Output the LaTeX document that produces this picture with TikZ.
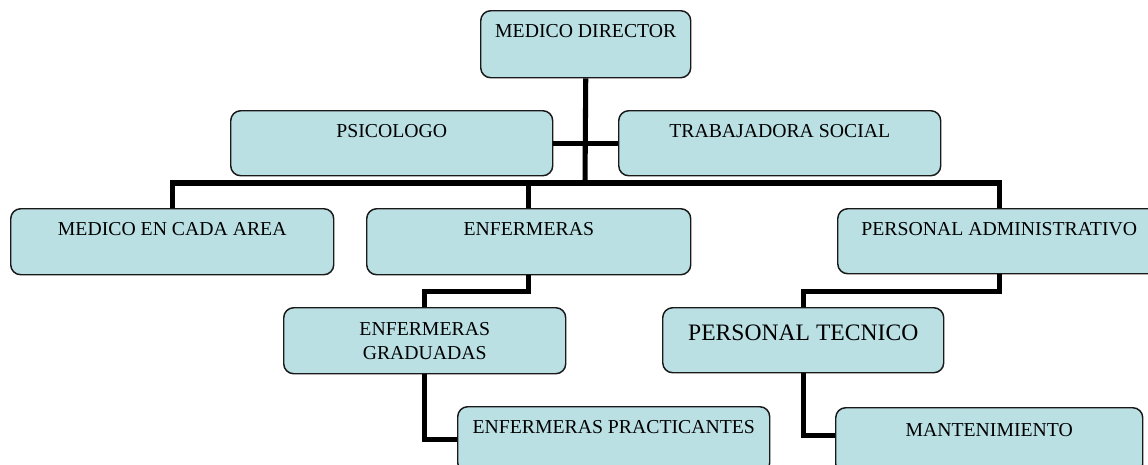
\documentclass[tikz,border=0pt]{standalone}
\usepackage{fontspec}
\setmainfont{Liberation Serif}
\definecolor{boxfill}{RGB}{186,224,228}
\newcommand{\pxu}{0.75pt}
\begin{document}
\begin{tikzpicture}[x=0.75pt,y=-0.75pt,
  orgbox/.style={draw=black!90, line width=1.1pt, fill=boxfill, rounded corners=7.5pt,
    inner xsep=0pt, inner ysep=0pt, anchor=north west,
    font=\fontsize{14.8}{18}\selectfont, text height=27*\pxu},
  conn/.style={line width=3.8pt, draw=black}]
\useasboundingbox (0,0) rectangle (1148,464);
\clip (0,0) rectangle (1148,464);

\node[orgbox, minimum width=210*\pxu, text depth=40*\pxu] (md) at (480,10) {MEDICO DIRECTOR};
\node[orgbox, minimum width=322*\pxu, text depth=38*\pxu] (psi) at (230,110) {PSICOLOGO};
\node[orgbox, minimum width=322*\pxu, text depth=38*\pxu] (ts) at (618,110) {TRABAJADORA SOCIAL};
\node[orgbox, minimum width=323*\pxu, text depth=39*\pxu] (mec) at (10,208) {MEDICO EN CADA AREA};
\node[orgbox, minimum width=324*\pxu, text depth=39*\pxu] (enf) at (366,208) {ENFERMERAS};
\node[orgbox, minimum width=323*\pxu, text depth=38*\pxu] (pa) at (837,208) {PERSONAL ADMINISTRATIVO};
\node[orgbox, minimum width=282*\pxu, minimum height=66*\pxu, text height=, text depth=, align=center] (eg) at (283,307) {ENFERMERAS\\GRADUADAS};
\node[orgbox, minimum width=281*\pxu, text height=33*\pxu, text depth=32*\pxu, font=\fontsize{17.7}{21}\selectfont] (pt) at (662,307) {PERSONAL TECNICO};
\node[orgbox, minimum width=312*\pxu, text depth=39*\pxu] (ep) at (457,406) {ENFERMERAS PRACTICANTES};
\node[orgbox, minimum width=307*\pxu, text height=29*\pxu, text depth=37*\pxu] (mant) at (835,407) {MANTENIMIENTO};

\coordinate (bar) at (585,183);
\draw[conn] (md.south) -- (bar);
\draw[conn] (psi.east) -- (ts.west);
\draw[conn] (mec.north) |- (bar) -| (pa.north);
\draw[conn] (enf.north) -- (enf.north |- bar);
\draw[conn] (enf.south) -- ++(0,16) -| (eg.north);
\draw[conn] (eg.south) |- (ep.west);
\draw[conn] (pa.south) -- ++(0,17) -| (pt.north);
\draw[conn] (pt.south) |- ([yshift=3.75pt]mant.west);
\end{tikzpicture}
\end{document}
